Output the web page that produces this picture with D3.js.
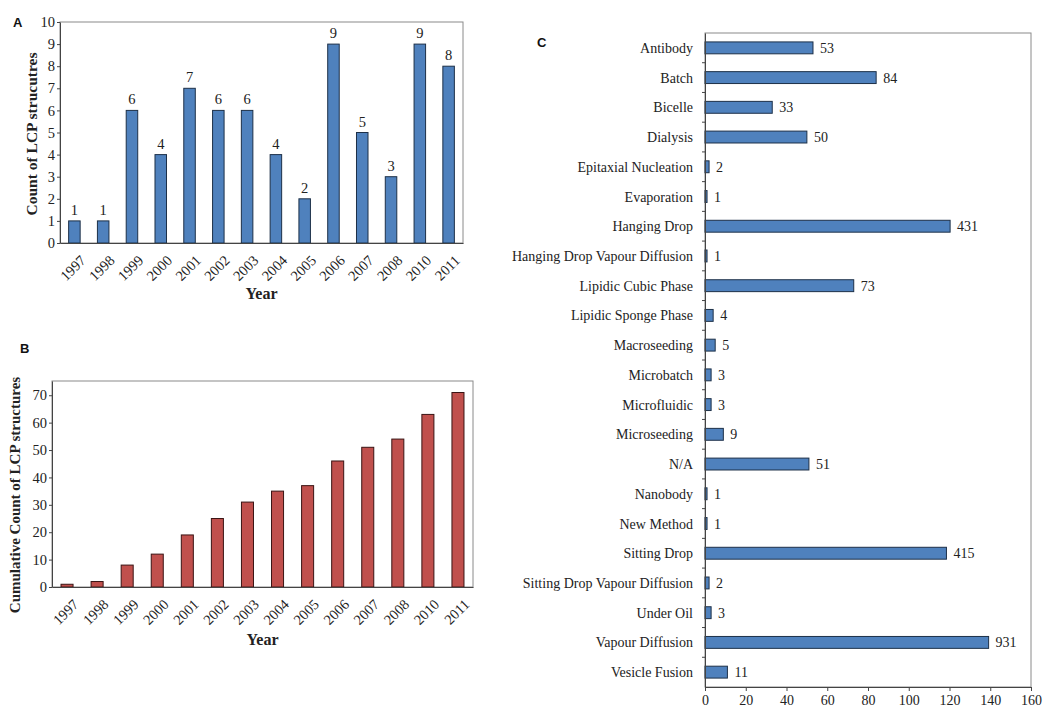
<!DOCTYPE html>
<html>
<head>
<meta charset="utf-8">
<script src="https://cdn.jsdelivr.net/npm/d3@7"></script>
<style>
  html, body { margin: 0; padding: 0; background: #fff; }
  svg { display: block; }
  text { font-family: "Liberation Serif", "Times New Roman", serif; fill: #222; }
  .panel { font-family: "Liberation Sans", Arial, sans-serif; font-weight: bold; font-size: 13px; fill: #111; }
</style>
</head>
<body>
<svg id="fig" width="1043" height="711"></svg>
<script>
// ---- data ----
const years = ["1997","1998","1999","2000","2001","2002","2003","2004","2005","2006","2007","2008","2010","2011"];
const yearlyCounts = [1, 1, 6, 4, 7, 6, 6, 4, 2, 9, 5, 3, 9, 8];
const cumulativeCounts = [1, 2, 8, 12, 19, 25, 31, 35, 37, 46, 51, 54, 63, 71];

const methods = ["Antibody","Batch","Bicelle","Dialysis","Epitaxial Nucleation","Evaporation","Hanging Drop",
  "Hanging Drop Vapour Diffusion","Lipidic Cubic Phase","Lipidic Sponge Phase","Macroseeding","Microbatch",
  "Microfluidic","Microseeding","N/A","Nanobody","New Method","Sitting Drop","Sitting Drop Vapour Diffusion",
  "Under Oil","Vapour Diffusion","Vesicle Fusion"];
const methodCounts = [53, 84, 33, 50, 2, 1, 431, 1, 73, 4, 5, 3, 3, 9, 51, 1, 1, 415, 2, 3, 931, 11];

const countTicksA = d3.range(0, 11, 1);
const countTicksB = d3.range(0, 71, 10);
const methodTicks = d3.range(0, 161, 20);
// counts above the axis range are compressed: count -> axis position
const compressCounts = [0, 100, 415, 431, 931];
const compressAxis   = [0, 100, 118.5, 120.3, 139.2];

const svg = d3.select("#fig");
const BLUE = "#4f81bd", BLUE_EDGE = "#1d3048";
const RED = "#c0504d", RED_EDGE = "#3a1414";
const FRAME = "#8a8a8a";

function frame(g, x0, y0, x1, y1) {
  g.append("rect").attr("x", x0).attr("y", y0).attr("width", x1 - x0).attr("height", y1 - y0)
    .attr("fill", "none").attr("stroke", FRAME).attr("stroke-width", 1);
}

function styleAxis(sel, size) {
  sel.select(".domain").attr("stroke", "#444");
  sel.selectAll(".tick line").attr("stroke", "#444");
  sel.selectAll(".tick text").style("font-family", "Liberation Serif, serif").style("font-size", size + "px").attr("fill", "#222");
}

// ---- vertical bar panel (A and B) ----
function yearPanel(opt) {
  const g = svg.append("g");
  const x = d3.scaleBand().domain(years).range([opt.left, opt.right]).paddingInner(0.6).paddingOuter(0.3);
  const y = d3.scaleLinear().domain([0, opt.ymax]).range([opt.bottom, opt.top]);
  frame(g, opt.left, opt.top, opt.right, opt.bottom);

  g.selectAll("rect.bar").data(opt.values).join("rect").attr("class", "bar")
    .attr("x", (d, i) => x(years[i]))
    .attr("y", d => y(d))
    .attr("width", x.bandwidth())
    .attr("height", d => y(0) - y(d))
    .attr("fill", opt.fill).attr("stroke", opt.edge).attr("stroke-width", 1);

  const ya = g.append("g").attr("transform", `translate(${opt.left},0)`)
    .call(d3.axisLeft(y).tickValues(opt.ticks).tickSize(3).tickPadding(2).tickSizeOuter(0));
  styleAxis(ya, 14.5);

  const xa = g.append("g").attr("transform", `translate(0,${opt.bottom})`)
    .call(d3.axisBottom(x).tickSize(0).tickPadding(0).tickSizeOuter(0));
  styleAxis(xa, 14.5);
  xa.selectAll(".tick text")
    .attr("text-anchor", "end").attr("dy", null).attr("y", 0)
    .attr("transform", "translate(5,11) rotate(-45)")
    .attr("dominant-baseline", "hanging");

  if (opt.labels) {
    g.selectAll("text.val").data(opt.values).join("text").attr("class", "val")
      .attr("x", (d, i) => x(years[i]) + x.bandwidth() / 2)
      .attr("y", d => y(d) - 6)
      .attr("text-anchor", "middle").style("font-size", "14.5px").text(d => d);
  }

  g.append("text").attr("x", (opt.left + opt.right) / 2).attr("y", opt.yearY)
    .attr("text-anchor", "middle").style("font-size", "16px").style("font-weight", "bold").attr("fill", "#222").text("Year");
  g.append("text").attr("transform", `translate(${opt.ylabelX},${opt.ylabelY}) rotate(-90)`)
    .attr("text-anchor", "middle").style("font-size", opt.ylabelSize + "px").style("font-weight", "bold").attr("fill", "#222").text(opt.ylabel);
  g.append("text").attr("class", "panel").attr("x", opt.tagX).attr("y", opt.tagY).text(opt.tag);
}

yearPanel({ left: 60, right: 463, top: 22, bottom: 243, ymax: 10, ticks: countTicksA,
  values: yearlyCounts, fill: BLUE, edge: BLUE_EDGE, labels: true, yearY: 299,
  ylabel: "Count of LCP strucutres", ylabelSize: 15.5, ylabelX: 37, ylabelY: 134, tag: "A", tagX: 13, tagY: 27 });

yearPanel({ left: 52, right: 473, top: 381, bottom: 587, ymax: 75.2, ticks: countTicksB,
  values: cumulativeCounts, fill: RED, edge: RED_EDGE, labels: false, yearY: 645,
  ylabel: "Cumulative Count of LCP structures", ylabelSize: 15, ylabelX: 20, ylabelY: 495, tag: "B", tagX: 20, tagY: 353 });

// ---- horizontal bar panel (C) ----
(function () {
  const g = svg.append("g");
  const L = 705, R = 1031, T = 33, B = 687;
  const x = d3.scaleLinear().domain([0, 160]).range([L, R]);
  const xBar = d3.scaleLinear().domain(compressCounts).range(compressAxis.map(v => x(v)));
  const y = d3.scaleBand().domain(methods).range([T, B]).paddingInner(0.6).paddingOuter(0.3);
  const yBand = d3.scaleBand().domain(methods).range([T, B]);
  frame(g, L, T, R, B);

  g.selectAll("rect.bar").data(methodCounts).join("rect").attr("class", "bar")
    .attr("x", x(0))
    .attr("y", (d, i) => y(methods[i]))
    .attr("width", d => xBar(d) - x(0))
    .attr("height", y.bandwidth())
    .attr("fill", BLUE).attr("stroke", BLUE_EDGE).attr("stroke-width", 1);

  g.selectAll("text.val").data(methodCounts).join("text").attr("class", "val")
    .attr("x", d => xBar(d) + 7)
    .attr("y", (d, i) => y(methods[i]) + y.bandwidth() / 2)
    .attr("dy", "0.36em").style("font-size", "14px").text(d => d);

  // category axis: ticks sit on the band boundaries
  const ya = g.append("g").attr("transform", `translate(${L},0)`)
    .call(d3.axisLeft(yBand).tickSize(0).tickPadding(12).tickSizeOuter(0));
  styleAxis(ya, 14);
  ya.selectAll(".tick text").attr("dy", "0.36em");
  g.selectAll("line.btick").data(methods.slice(1)).join("line").attr("class", "btick")
    .attr("x1", L - 3).attr("x2", L)
    .attr("y1", d => yBand(d)).attr("y2", d => yBand(d))
    .attr("stroke", "#444");

  const xa = g.append("g").attr("transform", `translate(0,${B})`)
    .call(d3.axisBottom(x).tickValues(methodTicks).tickSize(4).tickPadding(4).tickSizeOuter(0));
  styleAxis(xa, 14);

  g.append("text").attr("class", "panel").attr("x", 537).attr("y", 47).text("C");
})();
</script>
</body>
</html>
